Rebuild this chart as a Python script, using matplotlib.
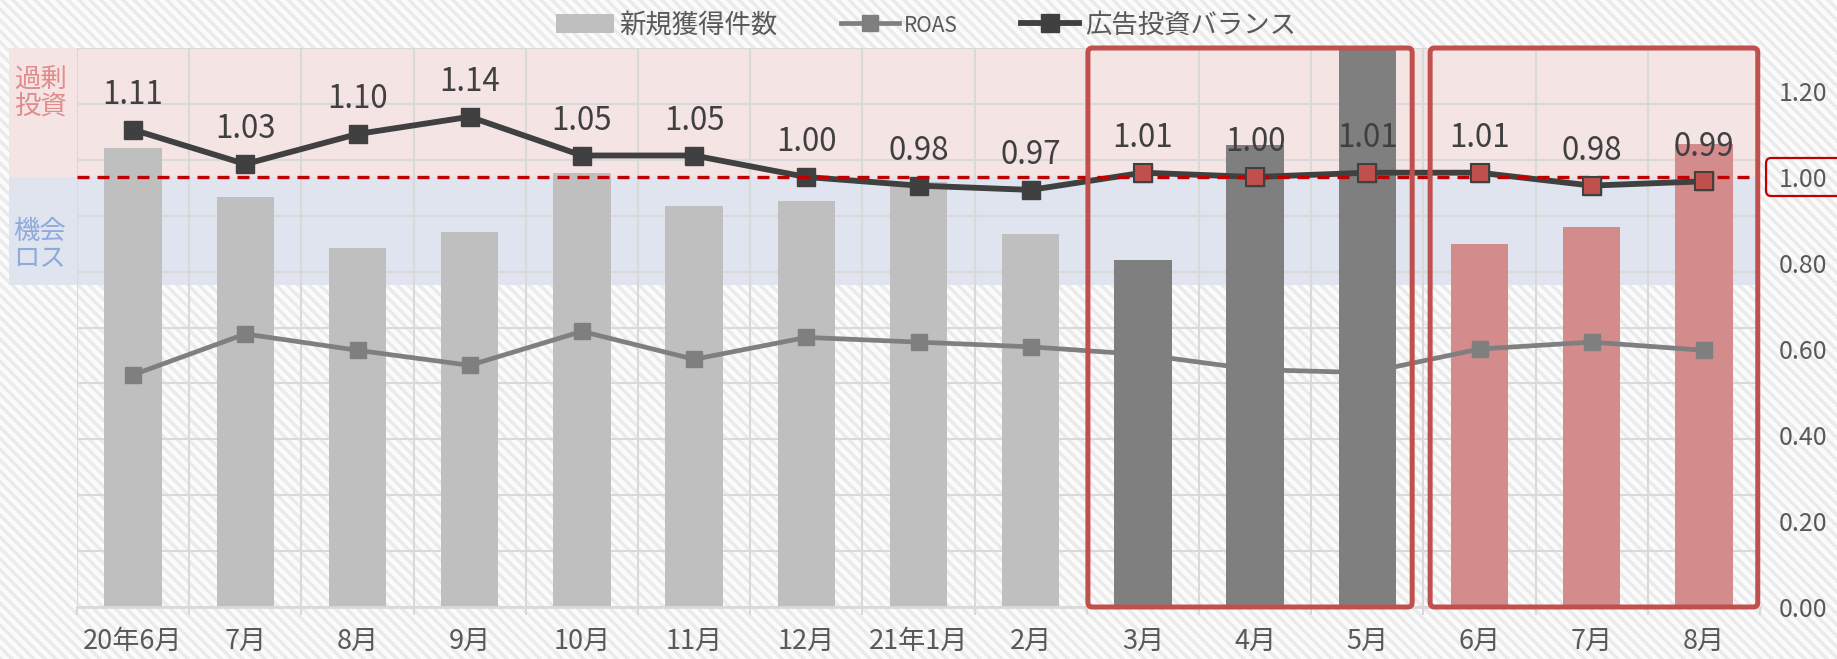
import numpy as np
import matplotlib
matplotlib.use('Agg')
import matplotlib.pyplot as plt
import matplotlib.transforms as mtransforms
from matplotlib.patches import Rectangle, FancyBboxPatch

plt.rcParams['font.family'] = ['Noto Sans CJK JP', 'DejaVu Sans']

months = ['20年6月', '7月', '8月', '9月', '10月', '11月', '12月', '21年1月',
          '2月', '3月', '4月', '5月', '6月', '7月', '8月']
acquisitions = [8.21, 7.34, 6.42, 6.70, 7.77, 7.18, 7.27, 7.61,
                6.68, 6.20, 8.27, 10.4, 6.50, 6.79, 8.28]
roas = [0.540, 0.635, 0.597, 0.562, 0.641, 0.576, 0.627, 0.616,
        0.605, 0.587, 0.552, 0.545, 0.600, 0.616, 0.597]
balance = [1.11, 1.03, 1.10, 1.14, 1.05, 1.05, 1.00, 0.98,
           0.97, 1.01, 1.00, 1.01, 1.01, 0.98, 0.99]

W, H = 1837, 659
fig = plt.figure(figsize=(W / 100, H / 100), dpi=100)

# striped background over the whole figure
rr, cc = np.mgrid[0:H, 0:W]
stripe = ((cc - rr) % 11) < 5
light = np.array([235, 235, 235]) / 255
white = np.array([251, 251, 251]) / 255
bg_img = np.where(stripe[..., None], light, white)
bg = fig.add_axes([0, 0, 1, 1], zorder=-10)
bg.imshow(bg_img, aspect='auto', interpolation='nearest')
bg.axis('off')

x = np.arange(len(months))
rect = [77 / W, 1 - 607 / H, 1683 / W, 559 / H]

ax = fig.add_axes(rect)
ax.set_facecolor('none')
ax_r = ax.twinx()
ax_d = ax.twinx()
ax_b = ax.twinx()

grid_c = '#d9d9d9'
text_c = '#595959'

# bars (left scale, hidden)
ax.bar(x[:9], acquisitions[:9], width=0.51, color='#bfbfbf', zorder=2, label='新規獲得件数')
ax.bar(x[12:], acquisitions[12:], width=0.51, color='#d38b8b', zorder=2)
ax_d.bar(x[9:12], acquisitions[9:12], width=0.51, color='#7f7f7f', zorder=2)

for a in (ax, ax_d):
    a.set_ylim(0, 10)
    a.set_xlim(-0.5, len(months) - 0.5)

ax.set_yticks(range(0, 11))
ax.set_xticks(x)
ax.set_xticklabels(months, fontsize=19.5, color=text_c)
ax.set_xticks(np.arange(-0.5, len(months)), minor=True)
ax.tick_params(axis='x', which='major', length=0, pad=15)
ax.tick_params(axis='x', which='minor', length=6, width=1.5, color=grid_c)
ax.tick_params(axis='y', left=False, labelleft=False)
ax.set_axisbelow(True)
ax.grid(axis='y', color=grid_c, lw=1.5)
ax.grid(axis='x', which='minor', color=grid_c, lw=1.5)
for s in ax.spines.values():
    s.set_visible(False)
ax.spines['bottom'].set_visible(True)
ax.spines['bottom'].set_color(grid_c)
ax.spines['bottom'].set_linewidth(2)

# ROAS line (right scale)
ax_r.plot(x, roas, color='#7f7f7f', lw=3.4, marker='s', ms=12, zorder=3, label='ROAS')
ax_r.set_ylim(0, 1.3)
ax_r.set_yticks(np.arange(0, 1.21, 0.2))
ax_r.set_yticklabels([f'{v:.2f}' for v in np.arange(0, 1.21, 0.2)], fontsize=18,
                     color=text_c)
ax_r.tick_params(axis='y', length=0, pad=13.5)

# balance line on top
ax_b.set_ylim(0, 1.3)
ax_b.plot(x, balance, color='#404040', lw=4.2, marker='s', ms=12.5, mew=1,
          zorder=4, label='広告投資バランス')
ax_b.plot(x[9:], balance[9:], ls='none', marker='s', ms=12.5, mfc='#c0504d',
          mec='#404040', mew=1.5, zorder=5)
ax_b.axhline(1.0, color='#c00000', lw=2.4, ls=(0, (3.6, 2.4)), zorder=4.5)
for i, v in enumerate(balance):
    ax_b.annotate(f'{v:.2f}', xy=(i, v), xytext=(0, 25), textcoords='offset points',
                  ha='center', va='center', fontsize=22.5, color='#404040', zorder=6)

for a in (ax_r, ax_d, ax_b):
    for s in a.spines.values():
        s.set_visible(False)
ax_d.yaxis.set_visible(False)
ax_b.yaxis.set_visible(False)

# over-investment / lost-opportunity bands, extended to the left margin
pos = ax.get_position()
band_tf = mtransforms.blended_transform_factory(fig.transFigure, ax_b.transData)
ax.add_patch(Rectangle((9 / W, 1.0), pos.x1 - 9 / W, 0.3, transform=band_tf,
                       color='#f5e4e4', zorder=0.2, clip_on=False, lw=0))
ax.add_patch(Rectangle((9 / W, 0.75), pos.x1 - 9 / W, 0.25, transform=band_tf,
                       color='#dfe4ef', zorder=0.2, clip_on=False, lw=0))
fig.text(40 / W, 1.197, '過剰\n投資', transform=band_tf, ha='center', va='center',
         fontsize=19, color='#e08c8c', linespacing=1.0)
fig.text(40 / W, 0.843, '機会\nロス', transform=band_tf, ha='center', va='center',
         fontsize=19, color='#8eaadb', linespacing=1.0)

# highlight frames around the two periods
frame_tf = mtransforms.blended_transform_factory(ax_b.transData, ax_b.transAxes)
for x0, x1 in [(8.51, 11.40), (11.56, 14.48)]:
    ax_b.add_patch(FancyBboxPatch((x0, 0), x1 - x0, 1, transform=frame_tf,
                                  boxstyle='round,pad=0,rounding_size=0.04',
                                  mutation_aspect=0.2, fc='none', ec='#c0504d',
                                  lw=3.6, zorder=7, clip_on=False))

# box around the 1.00 tick label
y_ax = 1.0 / 1.3
ax_b.add_patch(FancyBboxPatch((1.0036, y_ax - 0.034), 0.06, 0.068,
                              transform=ax_b.transAxes,
                              boxstyle='round,pad=0,rounding_size=0.003',
                              mutation_aspect=1683 / 559, fc='none', ec='#c00000',
                              lw=1.6, zorder=7, clip_on=False))

handles = [ax.containers[0], ax_r.lines[0], ax_b.lines[0]]
labels = ['新規獲得件数', 'ROAS', '広告投資バランス']
leg = fig.legend(handles, labels, loc='center', bbox_to_anchor=(0.504, 1 - 25 / H),
                 ncol=3, frameon=False, fontsize=19, handlelength=2.2,
                 handletextpad=0.2, columnspacing=2.4)
for t in leg.get_texts():
    t.set_color(text_c)
leg.get_texts()[1].set_fontsize(15)

fig.savefig('out.png', dpi=100)
